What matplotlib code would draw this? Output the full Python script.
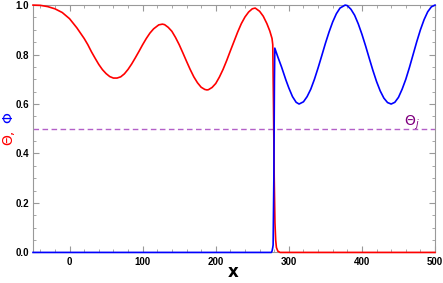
import matplotlib.pyplot as plt

# curves
x_theta = [-50, -40, -30, -20, -10, 0, 10, 20, 25, 30, 35, 40, 45, 50,
           55, 60, 65, 70, 75, 80, 85, 90, 95, 100, 105, 110, 115, 122, 127, 130,
           135, 140, 145, 150, 155, 160, 165, 170, 175, 180, 185, 188, 190, 195,
           200, 205, 210, 215, 220, 225, 230, 235, 240, 245, 250, 254, 260, 265,
           270, 274, 277, 278, 279, 280, 281, 282, 283, 285, 288, 300, 400, 500]
theta = [1.0, 0.999, 0.994, 0.985, 0.97, 0.945, 0.908, 0.865, 0.84, 0.811, 0.785,
         0.76, 0.739, 0.723, 0.711, 0.705, 0.705, 0.71, 0.722,
         0.74, 0.762, 0.787, 0.813, 0.84, 0.865, 0.887, 0.904, 0.92, 0.923, 0.921,
         0.91, 0.894, 0.869, 0.84, 0.807, 0.773, 0.74, 0.71, 0.686, 0.668, 0.659,
         0.657, 0.658, 0.667, 0.683, 0.709, 0.74, 0.776, 0.815, 0.853, 0.891,
         0.925, 0.952, 0.972, 0.985, 0.988, 0.975, 0.955, 0.925, 0.895, 0.865,
         0.84, 0.6, 0.3, 0.12, 0.05, 0.02, 0.005, 0.0, 0.0, 0.0, 0.0]

x_phi = [-50, 100, 200, 276, 277, 278, 278.5, 279.5, 280.3, 280.8, 285, 290, 296,
         300, 305, 310, 314, 320, 325, 330, 335, 340, 345, 350, 355, 360, 365,
         370, 377, 380, 385, 390, 395, 400, 405, 410, 415, 420, 425, 430, 435,
         440, 445, 450, 455, 460, 465, 470, 475, 480, 485, 490, 495, 500]
phi = [0.0, 0.0, 0.0, 0.0, 0.005, 0.02, 0.03, 0.3, 0.7, 0.826, 0.79, 0.75, 0.697,
       0.665, 0.63, 0.607, 0.6, 0.609, 0.63, 0.66, 0.7, 0.746, 0.795, 0.845,
       0.891, 0.932, 0.965, 0.988, 1.0, 0.998, 0.983, 0.959, 0.924, 0.882, 0.835,
       0.785, 0.736, 0.691, 0.653, 0.624, 0.606, 0.6, 0.607, 0.627, 0.66, 0.7,
       0.748, 0.8, 0.852, 0.9, 0.941, 0.973, 0.993, 1.0]

theta_j = 0.5

fig = plt.figure(figsize=(4.43, 2.83), dpi=100)
ax = fig.add_axes([0.0745, 0.108, 0.9075, 0.874])

ax.axhline(theta_j, color='#b360c8', lw=1.0, ls=(0, (4, 2.5)))
ax.plot(x_theta, theta, color='#ff0000', lw=1.2, clip_on=False, zorder=3)
ax.plot(x_phi, phi, color='#0000ff', lw=1.2, clip_on=False, zorder=3)

ax.set_xlim(-50, 500)
ax.set_ylim(0, 1)
ax.set_xticks([0, 100, 200, 300, 400, 500])
ax.set_yticks([0, 0.2, 0.4, 0.6, 0.8, 1.0])
ax.set_yticklabels(['0.0', '0.2', '0.4', '0.6', '0.8', '1.0'])
ax.set_xticks(range(-40, 501, 20), minor=True)
ax.set_yticks([i * 0.05 for i in range(21)], minor=True)
ax.tick_params(which='both', direction='in', top=True, right=True,
               color='#999999', labelsize=7, pad=3)
ax.tick_params(which='major', length=4)
ax.tick_params(which='minor', length=2)
for lbl in ax.get_xticklabels() + ax.get_yticklabels():
    lbl.set_fontweight('bold')
    lbl.set_family('Liberation Sans')
for s in ax.spines.values():
    s.set_color('#999999')

ax.text(0.922, 0.511, r'$\Theta_j$', transform=ax.transAxes, color='#800080',
        fontsize=10, ha='left', va='baseline')

fig.text(0.526, 0.04, 'x', fontsize=12, fontweight='bold', ha='center', va='center')
fig.text(0.018, 0.515, 'Θ,', color='red', fontsize=10, rotation=90, ha='center', va='center')
fig.text(0.018, 0.585, 'Φ', color='blue', fontsize=10, rotation=90, ha='center', va='center')

fig.savefig('out.png', dpi=100)
